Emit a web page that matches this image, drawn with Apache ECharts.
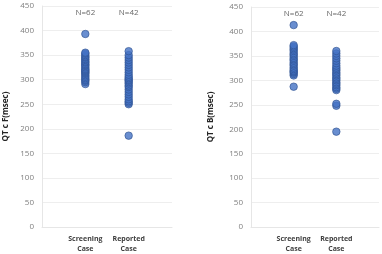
<!DOCTYPE html>
<html>
<head>
<meta charset="utf-8">
<script src="https://cdn.jsdelivr.net/npm/echarts@6/dist/echarts.min.js"></script>
<style>
  html, body { margin: 0; padding: 0; background: #fff; }
  #main { width: 382px; height: 254px; }
</style>
</head>
<body>
<div id="main"></div>
<script>
  // categories sit at x = 1 and x = 2 on a 0..3 value axis (Excel-style scatter)
  var categories = ['Screening\nCase', 'Reported\nCase'];
  var nLabels = ['N=62', 'N=42'];

  // QTc Fridericia (left panel)
  var qtcF_screening = [291, 295, 298, 300, 303, 306, 309, 312, 314, 316, 318, 320, 322, 325,
    328, 330, 332, 335, 337, 340, 342, 345, 347, 350, 353, 355, 393];
  var qtcF_reported = [186, 250, 253, 256, 260, 265, 270, 275, 280, 285, 288, 292, 295, 298,
    300, 303, 306, 310, 315, 320, 325, 330, 335, 340, 345, 350, 358];

  // QTc Bazett (right panel)
  var qtcB_screening = [287, 310, 313, 316, 318, 320, 323, 326, 330, 333, 336, 340, 343, 346,
    350, 353, 356, 360, 363, 366, 369, 372, 413];
  var qtcB_reported = [195, 248, 252, 280, 283, 286, 290, 293, 296, 300, 303, 306, 310, 313,
    316, 320, 323, 326, 330, 335, 340, 345, 350, 355, 360];

  var yTitles = ['QT c F(msec)', 'QT c B(msec)'];
  var nLabelY = 437;

  var font = '"Open Sans", Lato, sans-serif';

  function toPoints(xPos, values) {
    return values.map(function(v) { return [xPos, v]; });
  }

  function xAxisFor(gridIndex) {
    return {
      type: 'value', gridIndex: gridIndex, min: 0, max: 3, interval: 1,
      axisLine: { show: true, lineStyle: { color: '#e6e6e6' } },
      axisTick: { show: false },
      splitLine: { show: false },
      axisLabel: {
        color: '#404040', fontSize: 7, fontWeight: 'bold', fontFamily: font,
        lineHeight: 10, margin: 7,
        formatter: function(v) { return categories[v - 1] || ''; }
      }
    };
  }

  function yAxisFor(gridIndex, title, gap) {
    return {
      type: 'value', gridIndex: gridIndex, min: 0, max: 450, interval: 50,
      name: title, nameLocation: 'middle', nameGap: gap,
      nameTextStyle: { color: '#262626', fontSize: 8, fontWeight: 'bold', fontFamily: font },
      axisLine: { show: true, lineStyle: { color: '#e6e6e6' } },
      axisTick: { show: false },
      splitLine: { lineStyle: { color: '#eeeeee' } },
      axisLabel: { color: '#7f7f7f', fontSize: 8, fontFamily: font, margin: 8 }
    };
  }

  function dotSeries(axisIndex, xPos, values) {
    return {
      type: 'scatter', xAxisIndex: axisIndex, yAxisIndex: axisIndex,
      data: toPoints(xPos, values),
      symbolSize: 7.5,
      itemStyle: { color: '#4472C4', borderColor: '#2F528F', borderWidth: 0.8 },
      silent: true
    };
  }

  function countSeries(axisIndex) {
    return {
      type: 'scatter', xAxisIndex: axisIndex, yAxisIndex: axisIndex,
      symbolSize: 0,
      data: nLabels.map(function(t, i) { return { value: [i + 1, nLabelY], name: t }; }),
      label: {
        show: true, position: 'inside', formatter: '{b}',
        color: '#404040', fontSize: 8, fontFamily: font
      },
      silent: true
    };
  }

  var chart = echarts.init(document.getElementById('main'), null, { renderer: 'canvas' });
  chart.setOption({
    animation: false,
    backgroundColor: '#ffffff',
    grid: [
      { left: 42, right: 210, top: 6, bottom: 26 },
      { left: 251, right: 1, top: 7, bottom: 26 }
    ],
    xAxis: [xAxisFor(0), xAxisFor(1)],
    yAxis: [yAxisFor(0, yTitles[0], 32), yAxisFor(1, yTitles[1], 36)],
    series: [
      dotSeries(0, 1, qtcF_screening),
      dotSeries(0, 2, qtcF_reported),
      countSeries(0),
      dotSeries(1, 1, qtcB_screening),
      dotSeries(1, 2, qtcB_reported),
      countSeries(1)
    ]
  });
</script>
</body>
</html>
